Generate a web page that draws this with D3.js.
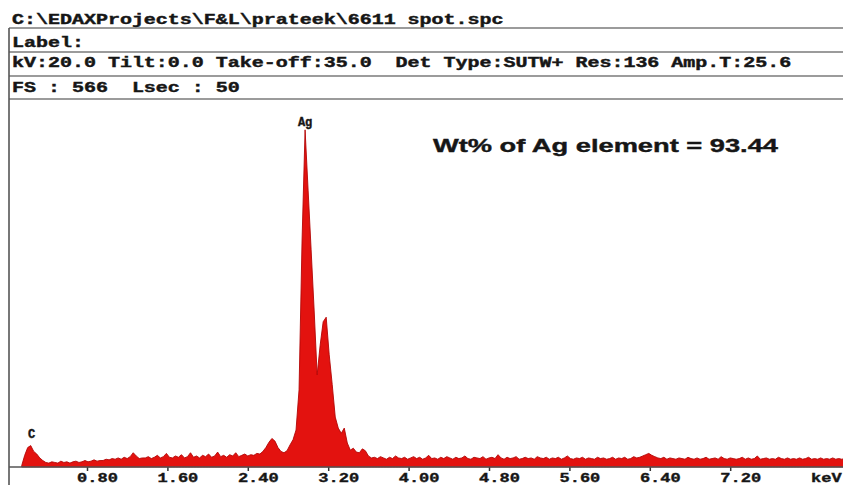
<!DOCTYPE html>
<html>
<head>
<meta charset="utf-8">
<script src="https://cdn.jsdelivr.net/npm/d3@7/dist/d3.min.js"></script>
<style>
  html, body { margin: 0; padding: 0; background: #ffffff; }
  svg { display: block; }
</style>
</head>
<body>
<svg id="chart" width="843" height="485"></svg>
<script>
// EDS spectrum of a silver spot (EDAX export)

// header block of the spectrum file
const headerLines = [
  "C:\\EDAXProjects\\F&L\\prateek\\6611 spot.spc",
  "Label:",
  "kV:20.0 Tilt:0.0 Take-off:35.0  Det Type:SUTW+ Res:136 Amp.T:25.6",
  "FS : 566  Lsec : 50"
];

// channel grid (keV)
const channelStart = 0.15;
const channelWidth = 0.03;

// counts per channel, 0.15 keV .. 8.34 keV
const counts = [
  // 0.15 - 0.36 : C K
  2, 18, 30, 33, 24, 20, 14, 10,
  // 0.39 - 0.93
  7, 6, 8, 7, 6, 9, 7, 8, 6, 8, 9, 7, 8, 10, 8, 9, 11, 9, 10,
  // 0.96 - 1.35
  10, 12, 11, 13, 12, 14, 12, 15, 13, 16, 22, 17, 13, 14,
  // 1.38 - 2.49
  14, 16, 13, 15, 18, 14, 16, 21, 15, 14,
  17, 15, 19, 14, 16, 22, 15, 17, 14, 18,
  16, 20, 15, 17, 23, 16, 18, 15, 19, 17,
  22, 16, 18, 20, 17, 19, 18, 21,
  // 2.52 - 2.67 : Ag Ll
  20, 24, 30, 38, 44, 40,
  // 2.70 - 2.82
  30, 24, 22, 25, 34,
  // 2.85 - 3.63 : Ag La / Ag Lb
  42, 57, 119, 350, 520, 427, 335, 242, 142, 188,
  224, 231, 173, 127, 77, 60, 52, 60, 37, 26,
  29, 23, 22, 28, 25, 17, 14,
  // 3.66 - 8.34 : background
  15, 13, 16, 14, 12, 15, 13, 17, 14, 13,
  15, 12, 14, 16, 13, 15, 12, 14, 18, 13,
  14, 12, 15, 13, 16, 14, 12, 15, 13, 14,
  17, 13, 12, 15, 14, 13, 16, 12, 14, 15,
  13, 19, 14, 12, 15, 13, 14, 16, 12, 13,
  15, 13, 14, 12, 16, 14, 13, 15, 12, 14,
  13, 15, 12, 14, 17, 13, 12, 14, 13, 15,
  12, 14, 13, 12, 15, 13, 14, 12, 13, 15,
  12, 14, 13, 15, 12, 13, 16, 14, 15, 17,
  19, 21, 18, 16, 14, 13, 15, 12, 14, 13,
  12, 14, 13, 12, 15, 13, 12, 14, 12, 13,
  15, 12, 13, 14, 12, 16, 13, 12, 14, 13,
  12, 13, 15, 12, 14, 12, 13, 17, 12, 13,
  14, 12, 13, 12, 15, 13, 12, 14, 12, 13,
  12, 14, 12, 13, 15, 12, 13, 12, 14, 12,
  13, 12, 14, 12, 13, 12, 13
];

// identified peaks
const peakNames = ["C", "Ag"];
const peakEnergies = [0.24, 2.97];

// energy axis ticks
const tickValues = [0.8, 1.6, 2.4, 3.2, 4.0, 4.8, 5.6, 6.4, 7.2];
const tickLabels = ["0.80", "1.60", "2.40", "3.20", "4.00", "4.80", "5.60", "6.40", "7.20"];
const unitLabel = "keV";

// quantification note
const fullScale = 566;
const agWeightPercent = 93.44;
const noteText = `Wt% of Ag element = ${agWeightPercent.toFixed(2)}`;

// ---------------------------------------------------------------
const W = 843, H = 485;
const svg = d3.select("#chart");

const spectrum = counts.map((c, i) => ({ e: channelStart + i * channelWidth, c }));

const x = d3.scaleLinear().domain([0, 8.0]).range([6.6, 810.6]);
const y = d3.scaleLinear().domain([0, fullScale]).range([467, 100]);

const mono = "'Courier New', 'Liberation Mono', monospace";
const ink = "#161616";
const rule = "#7a7a7a";

// header rows and separators
const headerBaselines = [24, 47, 67, 92];
const separatorYs = [28, 52, 76, 99];

svg.append("g").selectAll("line")
  .data(separatorYs)
  .join("line")
  .attr("x1", 9).attr("x2", W)
  .attr("y1", d => d).attr("y2", d => d)
  .attr("stroke", rule).attr("stroke-width", 1.6);

svg.append("line")
  .attr("x1", 9).attr("x2", 9)
  .attr("y1", 28).attr("y2", H)
  .attr("stroke", "#555").attr("stroke-width", 1.6);

svg.append("g").selectAll("text")
  .data(headerLines)
  .join("text")
  .attr("transform", (d, i) => `translate(12,${headerBaselines[i]}) scale(1,0.72)`)
  .attr("font-family", mono)
  .attr("font-weight", "bold")
  .attr("font-size", 20)
  .attr("fill", ink)
  .attr("stroke", ink)
  .attr("stroke-width", 0.6)
  .attr("xml:space", "preserve")
  .style("white-space", "pre")
  .text(d => d);

// spectrum area
const area = d3.area()
  .x(d => x(d.e))
  .y0(y(0))
  .y1(d => y(d.c));

svg.append("path")
  .datum(spectrum)
  .attr("d", area)
  .attr("fill", "#e3120f")
  .attr("stroke", "#b30606")
  .attr("stroke-width", 0.9)
  .attr("stroke-linejoin", "round");

// energy axis
const axis = d3.axisBottom(x)
  .tickValues(tickValues)
  .tickSize(4)
  .tickFormat((d, i) => tickLabels[i]);

const gx = svg.append("g")
  .attr("transform", `translate(0,${y(0)})`)
  .call(axis);

gx.select(".domain").remove();
gx.selectAll(".tick line").attr("stroke", "#333").attr("stroke-width", 1.5);
gx.selectAll(".tick text")
  .attr("y", 0)
  .attr("dy", 0)
  .attr("transform", "translate(10,14.5) scale(1,0.72)")
  .attr("font-family", mono)
  .attr("font-weight", "bold")
  .attr("font-size", 17)
  .attr("fill", ink)
  .attr("stroke", ink)
  .attr("stroke-width", 0.5);

svg.append("line")
  .attr("x1", 9).attr("x2", W)
  .attr("y1", y(0)).attr("y2", y(0))
  .attr("stroke", "#555").attr("stroke-width", 1.4);

svg.append("text")
  .attr("transform", `translate(811,${y(0) + 14.5}) scale(1,0.72)`)
  .attr("font-family", mono)
  .attr("font-weight", "bold")
  .attr("font-size", 17)
  .attr("fill", ink)
  .attr("stroke", ink)
  .attr("stroke-width", 0.5)
  .text(unitLabel);

// peak labels above each identified line
const peakCount = e => counts[Math.round((e - channelStart) / channelWidth)];
svg.append("g").selectAll("text")
  .data(peakNames)
  .join("text")
  .attr("x", (d, i) => x(peakEnergies[i]) + (i === 0 ? 1 : 0))
  .attr("y", (d, i) => y(peakCount(peakEnergies[i])) - (i === 0 ? 8 : 4))
  .attr("text-anchor", "middle")
  .attr("font-family", mono)
  .attr("font-weight", "bold")
  .attr("font-size", 12)
  .attr("fill", ink)
  .attr("stroke", ink)
  .attr("stroke-width", 0.4)
  .text(d => d);

// quantification note
svg.append("text")
  .attr("x", 433)
  .attr("y", 152)
  .attr("textLength", 345)
  .attr("lengthAdjust", "spacingAndGlyphs")
  .attr("font-family", "'Liberation Sans', Arial, sans-serif")
  .attr("font-weight", "bold")
  .attr("font-size", 19)
  .attr("fill", ink)
  .attr("stroke", ink)
  .attr("stroke-width", 0.4)
  .text(noteText);
</script>
</body>
</html>
